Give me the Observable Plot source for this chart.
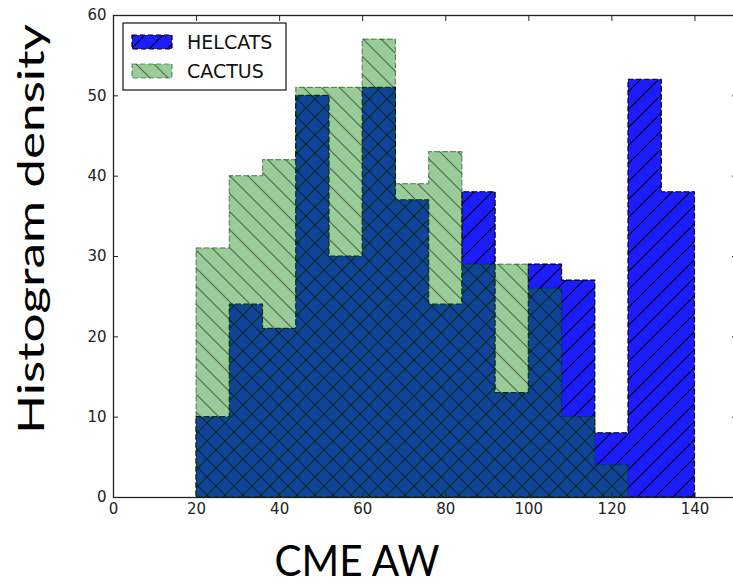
<!DOCTYPE html>
<html><head><meta charset="utf-8">
<script src="https://cdn.jsdelivr.net/npm/d3@7"></script>
<script src="https://cdn.jsdelivr.net/npm/@observablehq/plot@0.6"></script>
<style>
html,body{margin:0;padding:0;background:#fff;overflow:hidden;width:733px;height:585px;}
#chart{position:relative;width:733px;height:585px;overflow:hidden;}
#chart svg{max-width:none !important;}
</style></head><body><div id="chart"></div>
<script>
const binStarts = [20,28,36,44,52,60,68,76,84,92,100,108,116,124,132];
const binWidth = 8;
const helcats = [10,24,21,50,30,51,37,24,38,13,29,27,8,52,38];
const cactus  = [31,40,42,51,51,57,39,43,29,29,26,10,4,0,0];
const xTicks = [0,20,40,60,80,100,120,140];
const yTicks = [0,10,20,30,40,50,60];
const seriesNames = ["HELCATS","CACTUS"];
const xLabel = "CME AW";
const yLabel = "Histogram density";

function steps(values) {
  const pts = binStarts.map((x, i) => ({x, y: values[i]}));
  pts.push({x: binStarts[binStarts.length - 1] + binWidth, y: values[values.length - 1]});
  return pts;
}

const tickFont = 15;
const plot = Plot.plot({
  width: 736, height: 585,
  marginLeft: 113, marginRight: 0, marginTop: 15, marginBottom: 88,
  x: {domain: [0, 150]},
  y: {domain: [0, 60]},
  style: {fontFamily: "'DejaVu Sans', sans-serif", fontSize: "15px", color: "#222", background: "#fff", maxWidth: "none"},
  marks: [
    Plot.areaY(steps(helcats), {x: "x", y: "y", curve: "step-after", fill: "url(#hatchB)", stroke: "#000", strokeDasharray: "5,3", strokeWidth: 1.2}),
    Plot.areaY(steps(cactus), {x: "x", y: "y", curve: "step-after", fill: "url(#hatchG)", stroke: "rgba(0,50,0,0.5)", strokeDasharray: "5,3", strokeWidth: 1.2}),
    Plot.frame({stroke: "#222", strokeWidth: 1.3}),
    Plot.axisX({ticks: xTicks, tickSize: -5, tickPadding: 11, label: null, fontSize: tickFont}),
    Plot.axisX({anchor: "top", ticks: xTicks, tickSize: -5, tickFormat: () => "", label: null}),
    Plot.axisY({ticks: yTicks, tickSize: -5, tickPadding: 12, label: null, fontSize: tickFont}),
    Plot.axisY({anchor: "right", ticks: yTicks, tickSize: -5, tickFormat: () => "", label: null})
  ]
});

const svg = d3.select(plot);
const defs = svg.insert("defs", ":first-child");
const P = 18;
const pB = defs.append("pattern").attr("id", "hatchB").attr("patternUnits", "userSpaceOnUse").attr("width", P).attr("height", P);
pB.append("rect").attr("width", P).attr("height", P).attr("fill", "rgb(28,28,255)");
pB.append("path").attr("d", `M0,${P}L${P},0M-4,4L4,-4M${P-4},${P+4}L${P+4},${P-4}`).attr("stroke", "#000").attr("stroke-width", 1.1);
const pG = defs.append("pattern").attr("id", "hatchG").attr("patternUnits", "userSpaceOnUse").attr("width", P).attr("height", P);
pG.append("rect").attr("width", P).attr("height", P).attr("fill", "rgba(0,128,0,0.4)");
pG.append("path").attr("d", `M0,0L${P},${P}M-4,${P-4}L4,${P+4}M${P-4},-4L${P+4},4`).attr("stroke", "rgba(0,0,0,0.5)").attr("stroke-width", 1.1);

// legend
const lg = svg.append("g").attr("class", "legend").attr("text-anchor", "start");
lg.append("rect").attr("x", 123).attr("y", 23).attr("width", 163).attr("height", 67).attr("fill", "#fff").attr("stroke", "#111").attr("stroke-width", 1.2);
const fills = ["url(#hatchB)", "url(#hatchG)"];
const strokes = ["#000", "rgba(0,50,0,0.5)"];
seriesNames.forEach((name, i) => {
  const y0 = 35 + i * 29;
  lg.append("rect").attr("x", 132).attr("y", y0).attr("width", 40).attr("height", 14)
    .attr("fill", fills[i]).attr("stroke", strokes[i]).attr("stroke-dasharray", "5,3").attr("stroke-width", 1.2);
  lg.append("text").attr("x", 187).attr("y", y0 + 14).attr("text-anchor", "start")
    .attr("font-family", "'DejaVu Sans', sans-serif")
    .attr("font-size", 19).attr("fill", "#111").text(name);
});

// axis titles
svg.append("text").attr("transform", "translate(44,229) rotate(-90)").attr("text-anchor", "middle")
  .attr("font-family", "Lato, 'Open Sans', sans-serif").attr("font-size", 36).attr("fill", "#000")
  .attr("textLength", 410).attr("lengthAdjust", "spacingAndGlyphs").text(yLabel);
svg.append("text").attr("transform", "translate(357,576)").attr("text-anchor", "middle")
  .attr("font-family", "Lato, 'Open Sans', sans-serif").attr("font-size", 42).attr("fill", "#000")
  .attr("textLength", 165).attr("lengthAdjust", "spacingAndGlyphs").text(xLabel);

document.getElementById("chart").appendChild(plot);
</script></body></html>
